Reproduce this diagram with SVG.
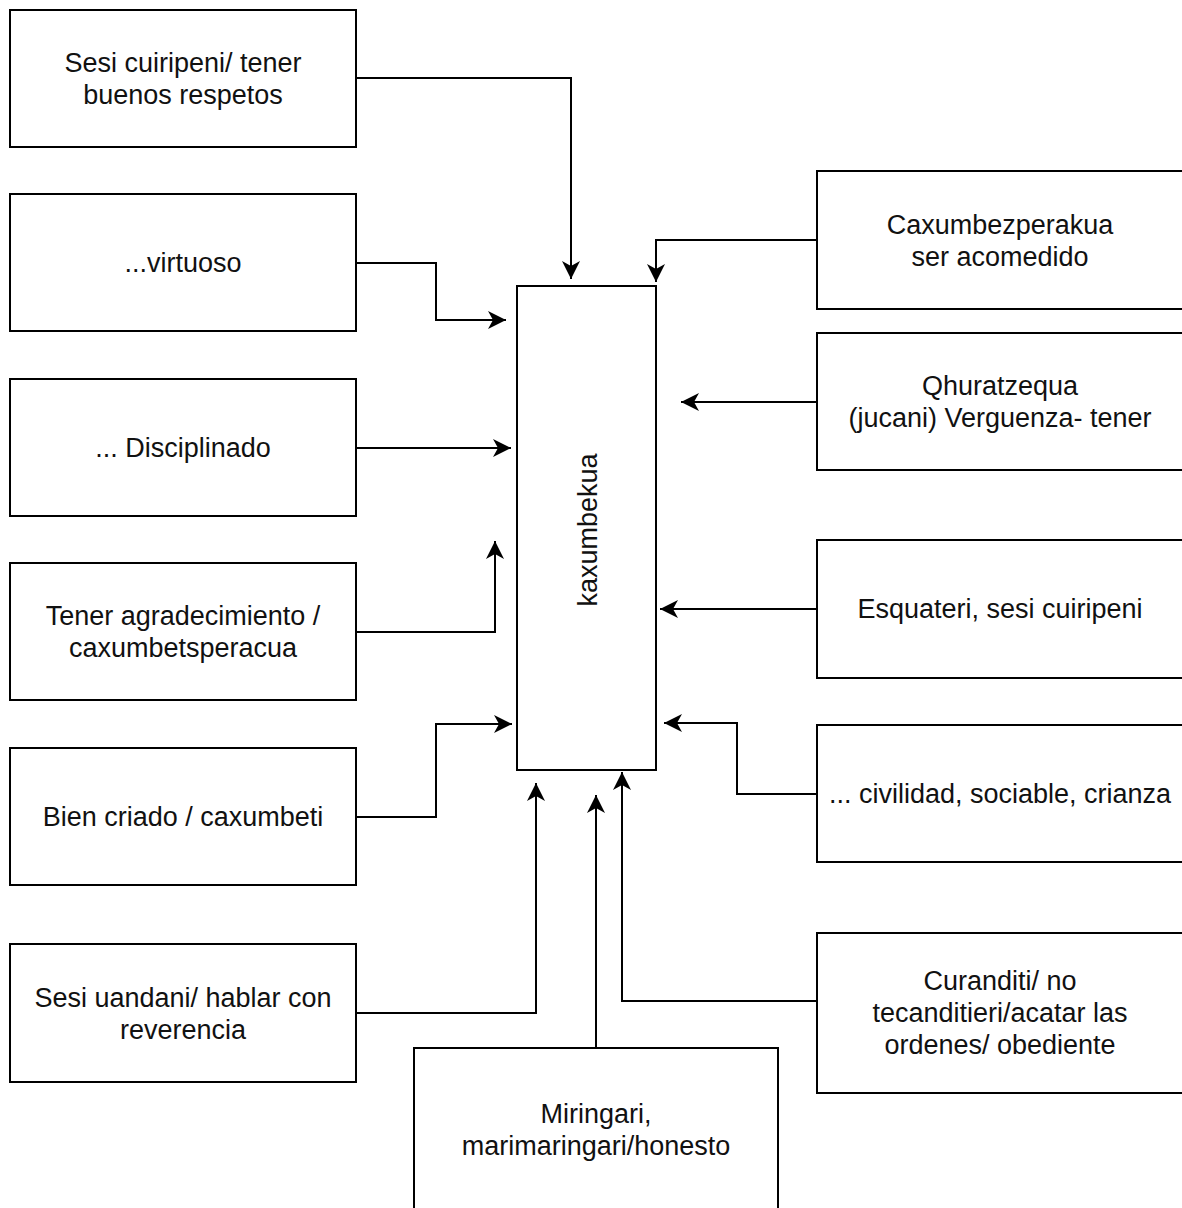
<svg xmlns="http://www.w3.org/2000/svg" width="1182" height="1208" viewBox="0 0 1182 1208">
<style>
.box{fill:#fff;stroke:#000;stroke-width:2}
.lbl{font-family:"Liberation Sans",Arial,Helvetica,sans-serif;font-size:27px;fill:#111;text-anchor:middle}
.edge{fill:none;stroke:#000;stroke-width:2;marker-end:url(#arr)}
</style>
<defs>
<marker id="arr" markerUnits="userSpaceOnUse" viewBox="0 0 20 20" refX="19" refY="10" markerWidth="20" markerHeight="20" orient="auto">
<path d="M1,1 L19,10 L1,19 L6,10 Z" fill="#000"/>
</marker>
</defs>
<rect width="1182" height="1208" fill="#fff"/>
<g id="connectors">
<path class="edge" d="M356,78 H571 V279"/>
<path class="edge" d="M356,263 H436 V320 H506"/>
<path class="edge" d="M356,448 H511"/>
<path class="edge" d="M356,632 H495 V541"/>
<path class="edge" d="M356,817 H436 V724 H512"/>
<path class="edge" d="M356,1013 H536 V783"/>
<path class="edge" d="M596,1048 V795"/>
<path class="edge" d="M817,1001 H622 V772"/>
<path class="edge" d="M817,794 H737 V723 H664"/>
<path class="edge" d="M817,609 H660"/>
<path class="edge" d="M817,402 H681"/>
<path class="edge" d="M817,240 H656 V282"/>
</g>
<g id="center">
<rect class="box" x="517" y="286" width="139" height="484"/>
<text class="lbl" transform="translate(587,530) rotate(-90)" y="9.5">kaxumbekua</text>
</g>
<g id="l1"><rect class="box" x="10" y="10" width="346" height="137"/><text class="lbl" x="183" y="72">Sesi cuiripeni/ tener</text><text class="lbl" x="183" y="104">buenos respetos</text></g>
<g id="l2"><rect class="box" x="10" y="194" width="346" height="137"/><text class="lbl" x="183" y="272">...virtuoso</text></g>
<g id="l3"><rect class="box" x="10" y="379" width="346" height="137"/><text class="lbl" x="183" y="457">... Disciplinado</text></g>
<g id="l4"><rect class="box" x="10" y="563" width="346" height="137"/><text class="lbl" x="183" y="625">Tener agradecimiento /</text><text class="lbl" x="183" y="657">caxumbetsperacua</text></g>
<g id="l5"><rect class="box" x="10" y="748" width="346" height="137"/><text class="lbl" x="183" y="826">Bien criado / caxumbeti</text></g>
<g id="l6"><rect class="box" x="10" y="944" width="346" height="138"/><text class="lbl" x="183" y="1007">Sesi uandani/ hablar con</text><text class="lbl" x="183" y="1039">reverencia</text></g>
<g id="bottom"><rect class="box" x="414" y="1048" width="364" height="170"/><text class="lbl" x="596" y="1123">Miringari,</text><text class="lbl" x="596" y="1155">marimaringari/honesto</text></g>
<g id="r1"><rect class="box" x="817" y="171" width="370" height="138"/><text class="lbl" x="1000" y="234">Caxumbezperakua</text><text class="lbl" x="1000" y="266">ser acomedido</text></g>
<g id="r2"><rect class="box" x="817" y="333" width="370" height="137"/><text class="lbl" x="1000" y="395">Qhuratzequa</text><text class="lbl" x="1000" y="427">(jucani) Verguenza- tener</text></g>
<g id="r3"><rect class="box" x="817" y="540" width="370" height="138"/><text class="lbl" x="1000" y="618">Esquateri, sesi cuiripeni</text></g>
<g id="r4"><rect class="box" x="817" y="725" width="370" height="137"/><text class="lbl" x="1000" y="803">... civilidad, sociable, crianza</text></g>
<g id="r5"><rect class="box" x="817" y="933" width="370" height="160"/><text class="lbl" x="1000" y="990">Curanditi/ no</text><text class="lbl" x="1000" y="1022">tecanditieri/acatar las</text><text class="lbl" x="1000" y="1054">ordenes/ obediente</text></g>
</svg>
